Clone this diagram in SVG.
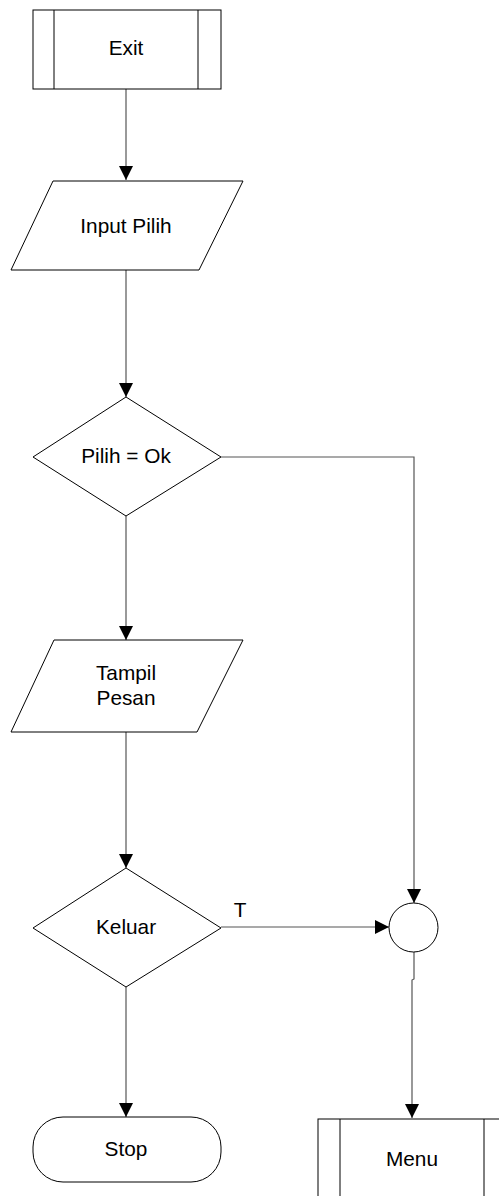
<svg xmlns="http://www.w3.org/2000/svg" width="499" height="1196" viewBox="0 0 499 1196">
<style>
.shape{fill:#fff;stroke:#000;stroke-width:1}
.conn{fill:none;stroke:#555;stroke-width:1.2}
.lbl{font-family:"Liberation Sans",Arial,sans-serif;font-size:20.8px;fill:#000;text-anchor:middle}
</style>
<defs>
<marker id="arr" markerWidth="14" markerHeight="16" refX="14" refY="7" orient="auto" markerUnits="userSpaceOnUse" viewBox="0 0 14 14">
<path d="M0,0 L14,7 L0,14 Z" fill="#000"/>
</marker>
</defs>
<rect width="499" height="1196" fill="#fff"/>
<g id="connectors">
<path class="conn" d="M126,89 V180" marker-end="url(#arr)"/>
<path class="conn" d="M126,270 V397" marker-end="url(#arr)"/>
<path class="conn" d="M126,516 V640" marker-end="url(#arr)"/>
<path class="conn" d="M126,732 V868" marker-end="url(#arr)"/>
<path class="conn" d="M126,987 V1117" marker-end="url(#arr)"/>
<path class="conn" d="M221,457 H414 V903" marker-end="url(#arr)"/>
<path class="conn" d="M221,927 H389" marker-end="url(#arr)"/>
<path class="conn" d="M414,952 V979 L412,980 V1118" marker-end="url(#arr)"/>
<text class="lbl" x="240" y="917">T</text>
</g>
<g id="exit">
<rect class="shape" x="33" y="10" width="188" height="79"/>
<line class="shape" x1="54" y1="10" x2="54" y2="89"/>
<line class="shape" x1="198" y1="10" x2="198" y2="89"/>
<text class="lbl" x="126" y="55">Exit</text>
</g>
<g id="input-pilih">
<polygon class="shape" points="53,181 243,181 199,270 11,270"/>
<text class="lbl" x="126" y="233">Input Pilih</text>
</g>
<g id="pilih-ok">
<polygon class="shape" points="126,397 221,457 126,516 33,457"/>
<text class="lbl" x="126" y="463">Pilih = Ok</text>
</g>
<g id="tampil-pesan">
<polygon class="shape" points="54,640 243,640 197,732 11,732"/>
<text class="lbl" x="126" y="680">Tampil</text>
<text class="lbl" x="126" y="705">Pesan</text>
</g>
<g id="keluar">
<polygon class="shape" points="126,868 221,928 126,987 33,928"/>
<text class="lbl" x="126" y="934">Keluar</text>
</g>
<g id="stop">
<rect class="shape" x="33" y="1117" width="188" height="65" rx="30" ry="30"/>
<text class="lbl" x="126" y="1156">Stop</text>
</g>
<g id="junction">
<circle class="shape" cx="413.5" cy="927.5" r="24.5"/>
</g>
<g id="menu">
<rect class="shape" x="318" y="1119" width="188" height="79"/>
<line class="shape" x1="340" y1="1119" x2="340" y2="1198"/>
<line class="shape" x1="484" y1="1119" x2="484" y2="1198"/>
<text class="lbl" x="412" y="1166">Menu</text>
</g>
</svg>
